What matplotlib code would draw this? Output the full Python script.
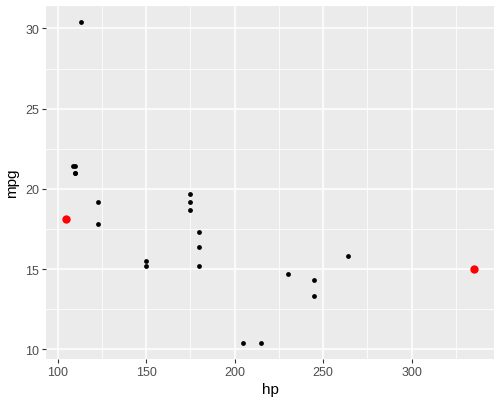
import numpy as np
import matplotlib.pyplot as plt

plt.rcParams['font.family'] = ['Liberation Sans', 'DejaVu Sans']

# mtcars, hp >= 100
hp = [110, 110, 110, 175, 105, 245, 123, 123, 180, 180, 180, 205, 215, 230,
      150, 150, 245, 175, 113, 264, 175, 335, 109]
mpg = [21.0, 21.0, 21.4, 18.7, 18.1, 14.3, 19.2, 17.8, 16.4, 17.3, 15.2, 10.4,
       10.4, 14.7, 15.5, 15.2, 13.3, 19.2, 30.4, 15.8, 19.7, 15.0, 21.4]
x_ticks = [100, 150, 200, 250, 300]
y_ticks = [10, 15, 20, 25, 30]

hp = np.array(hp)
mpg = np.array(mpg)
extreme = (hp == hp.min()) | (hp == hp.max())

fig = plt.figure(figsize=(5.02, 4.06), dpi=100)
ax = fig.add_axes([46 / 502, 46 / 406, 448 / 502, 353 / 406])
ax.set_facecolor('#EBEBEB')

ax.scatter(hp[~extreme], mpg[~extreme], s=12, color='black', linewidths=0, zorder=3)
ax.scatter(hp[extreme], mpg[extreme], s=36, color='red', linewidths=0, zorder=3)

xr = hp.max() - hp.min()
yr = mpg.max() - mpg.min()
ax.set_xlim(hp.min() - 0.05 * xr, hp.max() + 0.05 * xr)
ax.set_ylim(mpg.min() - 0.05 * yr, mpg.max() + 0.05 * yr)

ax.set_xticks(x_ticks)
ax.set_yticks(y_ticks)
ax.set_xticks([125, 175, 225, 275, 325], minor=True)
ax.set_yticks([12.5, 17.5, 22.5, 27.5], minor=True)
ax.grid(which='major', color='white', linewidth=1.1)
ax.grid(which='minor', color='white', linewidth=0.55)
ax.set_axisbelow(True)
for s in ax.spines.values():
    s.set_visible(False)
ax.tick_params(which='major', length=3, width=0.8, color='#333333',
               labelcolor='#4D4D4D', labelsize=9, pad=2)
ax.tick_params(which='minor', length=0)

ax.set_xlabel('hp', fontsize=11, labelpad=3)
ax.set_ylabel('mpg', fontsize=11, labelpad=4)

fig.savefig('out.png', dpi=100)
